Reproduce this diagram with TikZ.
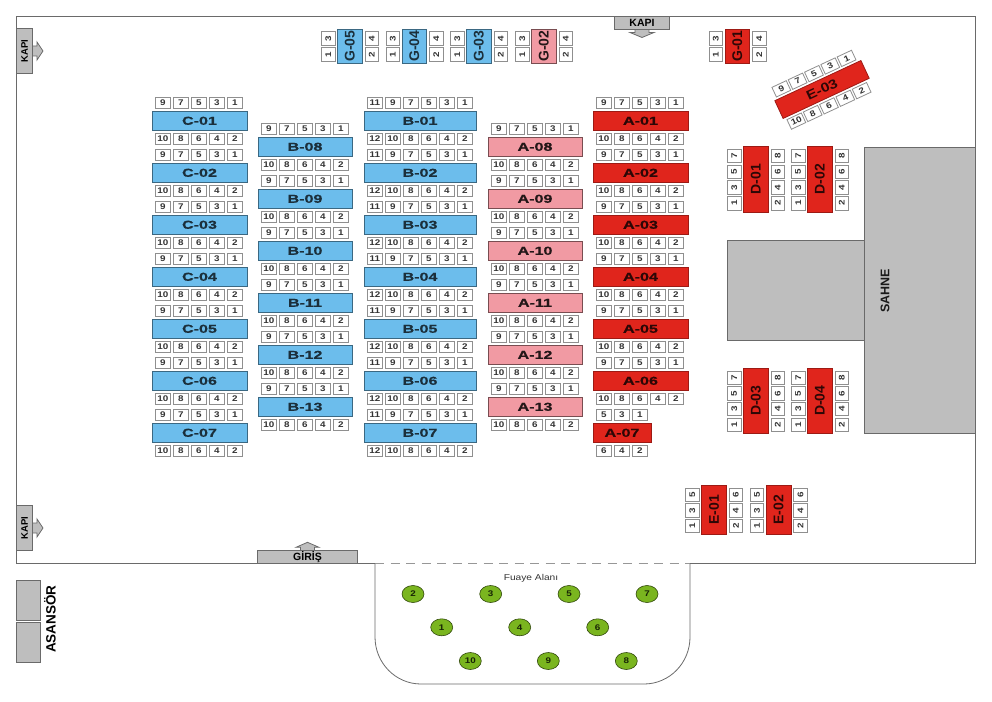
\documentclass[tikz,border=0pt]{standalone}
\usepackage{fontspec}
\setmainfont{Liberation Sans}
\newfontfamily\tablefont[FakeStretch=1.4,BoldFeatures={FakeStretch=1.4,FakeBold=0.7}]{Liberation Sans}
\newfontfamily\seatfont[FakeStretch=1.2]{Liberation Sans}
\newfontfamily\slantfont[FakeStretch=1.2]{Liberation Sans}
\usepackage{tikz}
\usetikzlibrary{shapes.geometric}

\definecolor{wallgray}{HTML}{6A6A6A}
\definecolor{seatgray}{HTML}{8F8F8F}
\definecolor{doorgray}{HTML}{BEBEBE}
\definecolor{tableblue}{HTML}{6CBDEC}
\definecolor{tablered}{HTML}{E0251C}
\definecolor{tablepink}{HTML}{F19AA3}
\definecolor{potgreen}{HTML}{7AB51F}

\tikzset{
  seat/.style={draw=seatgray,fill=white,line width=0.8pt,inner sep=0pt,outer sep=0pt,minimum width=15.8pt,minimum height=10.6pt,text=black!80,font=\seatfont\bfseries\fontsize{8.2}{8.2}\selectfont},
  vseat/.style={seat,rotate=90,minimum width=13.4pt,minimum height=13.4pt},
  blue/.style={fill=tableblue,draw=tableblue!55!black,text=black!75!tableblue},
  red/.style={fill=tablered,draw=tablered!70!black,text=black!80!tablered},
  pink/.style={fill=tablepink,draw=tablepink!50!black,text=black!85!tablepink},
  rowbox/.style={line width=0.8pt,inner sep=0pt,outer sep=0pt,minimum height=19.6pt,anchor=north west,font=\tablefont\bfseries\fontsize{11.5}{11.5}\selectfont},
  colbox/.style={line width=0.8pt,inner sep=0pt,outer sep=0pt,minimum height=24.6pt,rotate=90,font=\bfseries\fontsize{14}{14}\selectfont},
  wall/.style={draw=wallgray,line width=0.9pt},
  door/.style={draw=wallgray,fill=doorgray,line width=0.8pt},
  pot/.style={ellipse,draw=black!60!potgreen,fill=potgreen,line width=0.6pt,inner sep=0pt,minimum width=22pt,minimum height=17pt,font=\seatfont\bfseries\fontsize{8.2}{8.2}\selectfont,text=black!80!potgreen}
}

% #1 name, #2 x, #3 y, #4 width, #5 colour, #6 upper seats, #7 lower seats
\newcommand{\rowtable}[7]{
  \node[rowbox,#5,minimum width=#4pt] (#1) at (#2,#3) {#1};
  \foreach \s [count=\i from 0] in {#6}
    \node[seat] (#1-\s) at ({#2+10.9+18*\i},{#3-8}) {\s};
  \foreach \s [count=\i from 0] in {#7}
    \node[seat] (#1-\s) at ({#2+10.9+18*\i},{#3+27.6}) {\s};
}
% #1 name, #2 x, #3 y top, #4 height, #5 colour, #6 left seats, #7 right seats
\newcommand{\coltable}[7]{
  \node[colbox,#5,minimum width=#4pt] (#1) at ({#2+12.3},{#3+#4/2}) {#1};
  \foreach \s [count=\i from 0] in {#6}
    \node[vseat] (#1-\s) at ({#2-9.3},{#3+9.6+15.7*\i}) {\s};
  \foreach \s [count=\i from 0] in {#7}
    \node[vseat] (#1-\s) at ({#2+34.2},{#3+9.6+15.7*\i}) {\s};
}

\begin{document}
\begin{tikzpicture}[x=1pt,y=-1pt]

  \useasboundingbox (0,0) rectangle (992,701);

  % salon
  \draw[wall] (375,563.5) -- (16.5,563.5) -- (16.5,16.5) -- (975.5,16.5) -- (975.5,563.5) -- (690,563.5);
  \draw[wall,dash pattern=on 9pt off 6.5pt,draw=wallgray!70] (375,563.5) -- (690,563.5);
  \draw[wall,line width=0.8pt] (375,563.5) -- (375,637) arc[start angle=180,end angle=270,x radius=46,y radius=-47] -- (644,684) arc[start angle=270,end angle=360,x radius=46,y radius=-47] -- (690,563.5);

  % sahne
  \draw[door] (864.5,147) rectangle (975.5,433);
  \draw[door] (727,240) rectangle (864.5,340);
  \node[rotate=90,font=\bfseries\fontsize{12.5}{12.5}\selectfont,text=black!90] (sahne) at (885,291) {SAHNE};

  % kapilar
  \foreach \yy/\nm in {51/kapiA,528/kapiB}{
    \draw[door] (33,\yy-5) -- (37,\yy-5) -- (37,\yy-9) -- (43,\yy) -- (37,\yy+9) -- (37,\yy+5) -- (33,\yy+5);
    \node[door,rotate=90,minimum width=44.5pt,minimum height=16pt,inner sep=0pt,font=\bfseries\fontsize{9.5}{9.5}\selectfont] (\nm) at (24.5,\yy) {KAPI};
  }
  \draw[door] (635,29.5) -- (635,32.5) -- (630,32.5) -- (642,37.5) -- (654,32.5) -- (649,32.5) -- (649,29.5);
  \node[door,minimum width=55.5pt,minimum height=13pt,inner sep=0pt,font=\bfseries\fontsize{10.5}{10.5}\selectfont] (kapiC) at (642,23) {KAPI};
  \draw[door] (300.5,550) -- (300.5,547.3) -- (296,547.3) -- (307.5,542.3) -- (319,547.3) -- (314.5,547.3) -- (314.5,550);
  \node[door,minimum width=100pt,minimum height=13.5pt,inner sep=0pt,font=\bfseries\fontsize{10.5}{10.5}\selectfont,text depth=0pt,text height=7.5pt] (giris) at (307.5,556.8) {GİRİŞ};

  % asansor
  \draw[door] (16.5,580) rectangle (40.5,620);
  \draw[door] (16.5,622) rectangle (40.5,662);
  \node[rotate=90,font=\bfseries\fontsize{13.5}{13.5}\selectfont] (asansor) at (50,619) {ASANSÖR};

  % masalar
  \foreach \n [count=\i from 0] in {01,02,03,04,05,06,07}{
    \pgfmathsetmacro\yy{111+52*\i}
    \rowtable{C-\n}{152}{\yy}{95}{blue}{9,7,5,3,1}{10,8,6,4,2}
    \rowtable{B-\n}{364}{\yy}{112}{blue}{11,9,7,5,3,1}{12,10,8,6,4,2}
  }
  \foreach \n [count=\i from 0] in {08,09,10,11,12,13}{
    \pgfmathsetmacro\yy{137+52*\i}
    \rowtable{B-\n}{258}{\yy}{94}{blue}{9,7,5,3,1}{10,8,6,4,2}
    \rowtable{A-\n}{488}{\yy}{94}{pink}{9,7,5,3,1}{10,8,6,4,2}
  }
  \foreach \n [count=\i from 0] in {01,02,03,04,05,06}{
    \pgfmathsetmacro\yy{111+52*\i}
    \rowtable{A-\n}{593}{\yy}{95}{red}{9,7,5,3,1}{10,8,6,4,2}
  }
  \rowtable{A-07}{593}{423}{58}{red}{5,3,1}{6,4,2}

  \coltable{G-05}{337.5}{29}{34.5}{blue}{3,1}{4,2}
  \coltable{G-04}{402}{29}{34.5}{blue}{3,1}{4,2}
  \coltable{G-03}{466.5}{29}{34.5}{blue}{3,1}{4,2}
  \coltable{G-02}{531.5}{29}{34.5}{pink}{3,1}{4,2}
  \coltable{G-01}{725}{29}{34.5}{red}{3,1}{4,2}

  \coltable{D-01}{743.5}{146.5}{65.5}{red}{7,5,3,1}{8,6,4,2}
  \coltable{D-02}{807.5}{146.5}{65.5}{red}{7,5,3,1}{8,6,4,2}
  \coltable{D-03}{743.5}{368}{65.5}{red}{7,5,3,1}{8,6,4,2}
  \coltable{D-04}{807.5}{368}{65.5}{red}{7,5,3,1}{8,6,4,2}
  \coltable{E-01}{701.7}{485}{49.5}{red}{5,3,1}{6,4,2}
  \coltable{E-02}{766.3}{485}{49.5}{red}{5,3,1}{6,4,2}

  \begin{scope}[shift={(822,89.5)},rotate=25,transform shape]
    \rowtable{E-03}{-47.5}{-9.8}{95}{red,font=\slantfont\bfseries\fontsize{13}{13}\selectfont}{9,7,5,3,1}{10,8,6,4,2}
  \end{scope}

  % fuaye
  \node[font=\seatfont\fontsize{8.5}{8.5}\selectfont,text=black!80] (fuaye) at (531,578) {Fuaye Alanı};
  \foreach \n/\xx/\yy in {2/413/594,3/490.7/594,5/569/594,7/647/594,1/441.7/627.3,4/519.7/627.3,6/597.7/627.3,10/470.3/661,9/548.3/661,8/626.3/661}
    \node[pot] (pot\n) at (\xx,\yy) {\n};

\end{tikzpicture}
\end{document}
